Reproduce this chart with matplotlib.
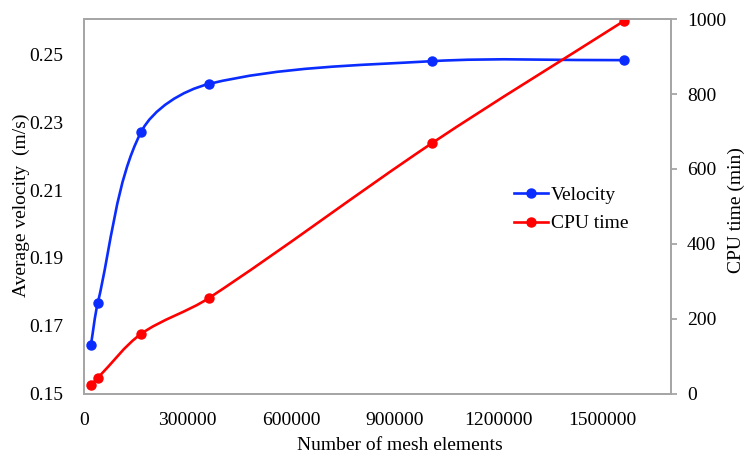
import numpy as np
import matplotlib
matplotlib.use("Agg")
import matplotlib.pyplot as plt
from matplotlib.path import Path
from matplotlib.patches import PathPatch

plt.rcParams["font.family"] = ["Liberation Serif", "DejaVu Serif"]

mesh = [20000, 40000, 165000, 362000, 1008000, 1564000]
velocity = [0.1644, 0.1768, 0.2270, 0.2412, 0.2479, 0.2482]
cpu_time = [24, 43, 160, 256, 669, 995]

BLUE = "#0a2cff"
RED = "#ff0000"
GREY = "#a6a6a6"


def smooth_path(a, xs, ys):
    # smoothed line like Excel: cubic Bezier through the points, built in
    # screen space with chord-length weighted tangents
    tr = a.transData
    pts = tr.transform(np.column_stack([xs, ys]).astype(float))
    n = len(pts)
    d = np.hypot(*np.diff(pts, axis=0).T)
    tang = []
    for i in range(n):
        if i == 0:
            tang.append((pts[1] - pts[0]) * 2)
        elif i == n - 1:
            tang.append((pts[-1] - pts[-2]) * 2)
        else:
            tang.append(pts[i + 1] - pts[i - 1])
    verts = [pts[0]]
    codes = [Path.MOVETO]
    for i in range(n - 1):
        w1 = d[i] / (d[i] + (d[i - 1] if i > 0 else d[i]))
        w2 = d[i] / (d[i] + (d[i + 1] if i + 1 < n - 1 else d[i]))
        c1 = pts[i] + tang[i] * w1 / 3
        c2 = pts[i + 1] - tang[i + 1] * w2 / 3
        verts += [c1, c2, pts[i + 1]]
        codes += [Path.CURVE4] * 3
    verts = tr.inverted().transform(np.array(verts))
    return Path(verts, codes)


fig = plt.figure(figsize=(7.44, 4.57), dpi=100)
ax = fig.add_axes([0.1129, 0.1379, 0.789, 0.8205])
ax2 = ax.twinx()

ax.set_xlim(0, 1700000)
ax.set_ylim(0.15, 0.2603)
ax2.set_ylim(0, 1000)

ax.add_patch(PathPatch(smooth_path(ax, mesh, velocity), fill=False, ec=BLUE, lw=1.9))
ax.plot(mesh, velocity, "o", color=BLUE, ms=6.5)
ax2.add_patch(PathPatch(smooth_path(ax2, mesh, cpu_time), fill=False, ec=RED, lw=1.9))
ax2.plot(mesh, cpu_time, "o", color=RED, ms=6.5)

ax.set_xticks([0, 300000, 600000, 900000, 1200000, 1500000])
ax.set_xticklabels(["0", "300000", "600000", "900000", "1200000", "1500000"])
ax.set_yticks([0.15, 0.17, 0.19, 0.21, 0.23, 0.25])
ax.set_yticklabels(["0.15", "0.17", "0.19", "0.21", "0.23", "0.25"])
ax2.set_yticks([0, 200, 400, 600, 800, 1000])

for a in (ax, ax2):
    for s in a.spines.values():
        s.set_color(GREY)
        s.set_linewidth(1.3)
ax.tick_params(axis="x", length=0, labelsize=14, pad=13)
ax.tick_params(axis="y", length=0, labelsize=14, pad=15)
ax2.tick_params(axis="y", length=4.5, color=GREY, width=1.3, labelsize=14, pad=7)

fig.text(400 / 744, 1 - 446 / 457, "Number of mesh elements", fontsize=14,
         ha="center", va="center")
fig.text(21 / 744, 1 - 205 / 457, "Average velocity  (m/s)", fontsize=14,
         ha="center", va="center", rotation=90)
fig.text(736 / 744, 1 - 210 / 457, "CPU time (min)", fontsize=14,
         ha="center", va="center", rotation=90)

h1 = plt.Line2D([], [], color=BLUE, lw=1.9, marker="o", ms=6.5)
h2 = plt.Line2D([], [], color=RED, lw=1.9, marker="o", ms=6.5)
ax2.legend([h1, h2], ["Velocity", "CPU time"], loc="center left",
           bbox_to_anchor=(0.733, 0.492), frameon=False, fontsize=14,
           handlelength=1.75, handletextpad=0.15, labelspacing=0.55,
           borderpad=0, borderaxespad=0)

fig.savefig("out.png", dpi=100)
